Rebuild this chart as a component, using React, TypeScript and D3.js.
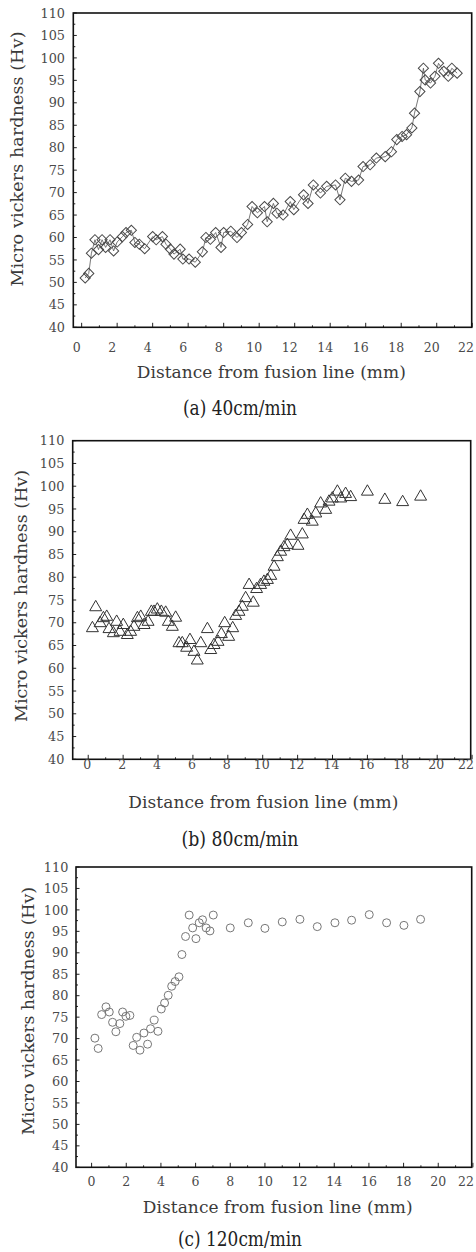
import React from 'react';
import * as d3 from 'd3';

// ---------- data ----------
const yTickValues = [40, 45, 50, 55, 60, 65, 70, 75, 80, 85, 90, 95, 100, 105, 110];
const xTickValues = [0, 2, 4, 6, 8, 10, 12, 14, 16, 18, 20, 22];

// (a) 40 cm/min - diamonds with a thin connecting line
const distA = [0.2, 0.4, 0.55, 0.75, 0.95, 1.15, 1.35, 1.6, 1.8, 2.0, 2.3, 2.5, 2.8, 3.0, 3.25, 3.55, 4.0, 4.2, 4.55, 4.75,
  5.0, 5.2, 5.55, 5.7, 6.05, 6.4, 6.8, 7.0, 7.25, 7.55, 7.85, 8.0, 8.4, 8.75, 9.0, 9.35, 9.6, 9.9, 10.3, 10.45,
  10.8, 11.0, 11.35, 11.75, 11.95, 12.5, 12.75, 13.05, 13.45, 13.8, 14.3, 14.55, 14.85, 15.2, 15.6, 15.85, 16.25, 16.6, 17.1, 17.45,
  17.75, 18.05, 18.3, 18.6, 18.75, 19.05, 19.25, 19.35, 19.65, 19.9, 20.1, 20.4, 20.65, 20.85, 21.15];
const hvA = [51.0, 52.0, 56.5, 59.5, 57.3, 59.5, 57.8, 59.5, 57.0, 59.0, 60.2, 61.1, 61.6, 58.9, 58.5, 57.5, 60.2, 59.5, 60.2, 58.5,
  57.4, 56.3, 57.4, 55.2, 55.2, 54.5, 56.8, 60.0, 59.6, 61.1, 57.8, 61.1, 61.4, 60.0, 61.1, 62.9, 66.9, 65.5, 66.9, 63.5,
  67.6, 65.4, 65.0, 68.0, 66.2, 69.5, 67.6, 71.7, 69.9, 71.4, 71.7, 68.4, 73.2, 72.5, 72.8, 75.8, 76.2, 77.7, 78.0, 79.1,
  81.8, 82.5, 82.9, 84.4, 87.7, 92.5, 97.7, 95.1, 94.4, 95.9, 98.8, 97.0, 95.9, 97.7, 96.6];

// (b) 80 cm/min - triangles
const distB = [0.24, 0.43, 0.68, 0.87, 1.06, 1.19, 1.44, 1.63, 1.82, 2.01, 2.24, 2.43, 2.62, 2.82, 3.01, 3.2, 3.43, 3.62, 3.77, 3.96,
  4.19, 4.44, 4.59, 4.82, 5.01, 5.2, 5.39, 5.64, 5.83, 6.06, 6.25, 6.45, 6.83, 7.02, 7.21, 7.44, 7.63, 7.82, 8.05, 8.28,
  8.45, 8.64, 8.83, 9.02, 9.22, 9.46, 9.65, 9.88, 10.07, 10.27, 10.46, 10.65, 10.84, 11.03, 11.22, 11.41, 11.6, 12.02, 12.27, 12.37,
  12.56, 12.84, 13.04, 13.32, 13.61, 13.8, 13.99, 14.28, 14.47, 14.75, 15.04, 16.0, 17.0, 18.02, 19.05];
const hvB = [68.8, 73.4, 69.9, 71.0, 71.3, 68.6, 67.7, 70.2, 68.0, 69.5, 67.3, 68.0, 69.1, 71.0, 71.3, 69.5, 70.2, 72.4, 72.4, 72.9,
  72.4, 72.2, 70.2, 69.1, 71.1, 65.5, 65.5, 64.5, 66.2, 63.6, 61.7, 65.5, 68.6, 64.0, 65.1, 65.8, 67.5, 69.9, 66.9, 68.8,
  71.5, 72.4, 73.5, 75.4, 78.3, 74.4, 77.4, 78.3, 79.0, 79.4, 80.3, 82.3, 84.4, 85.6, 86.6, 87.1, 89.1, 86.9, 89.4, 92.6,
  93.7, 92.2, 94.0, 96.2, 94.8, 96.6, 97.3, 98.8, 97.3, 98.3, 97.6, 98.8, 97.0, 96.5, 97.7];

// (c) 120 cm/min - circles
const distC = [0.19, 0.38, 0.58, 0.83, 1.02, 1.21, 1.4, 1.63, 1.79, 1.98, 2.21, 2.4, 2.6, 2.79, 3.02, 3.23, 3.4, 3.61, 3.83, 4.02,
  4.21, 4.42, 4.62, 4.82, 5.04, 5.21, 5.42, 5.63, 5.83, 6.02, 6.21, 6.4, 6.61, 6.83, 7.02, 8.0, 9.04, 10.0, 11.0, 12.02,
  13.02, 14.04, 15.0, 16.02, 17.02, 18.02, 18.98];
const hvC = [70.1, 67.7, 75.6, 77.4, 76.2, 73.8, 71.6, 73.5, 76.2, 75.2, 75.4, 68.4, 70.3, 67.3, 71.3, 68.7, 72.3, 74.3, 71.7, 76.9,
  78.3, 80.1, 82.2, 83.3, 84.4, 89.6, 93.8, 98.8, 95.8, 93.3, 97.0, 97.7, 95.8, 95.1, 98.8, 95.8, 97.0, 95.7, 97.2, 97.8,
  96.1, 97.0, 97.6, 98.9, 97.0, 96.4, 97.8];

const captions = ['(a) 40cm/min', '(b) 80cm/min', '(c) 120cm/min'];
const xTitleText = 'Distance from fusion line (mm)';
const yTitleText = 'Micro vickers hardness (Hv)';

// ---------- layout ----------
type Layout = {
  left: number; right: number; top: number; bottom: number;
  xDomain: [number, number];
  yLabelRight: number; xLabelBase: number; xLabelDx: number;
  xTitle: { cx: number; base: number; len: number };
  yTitle: { cx: number; cy: number; len: number };
  caption: { cx: number; base: number; len: number };
  marker: 'diamond' | 'triangle' | 'circle';
  line: boolean;
};

const layouts: Layout[] = [
  {
    left: 73.3, right: 471.7, top: 13, bottom: 327.3, xDomain: [-0.47, 21.97],
    yLabelRight: 65, xLabelBase: 351.7, xLabelDx: -5,
    xTitle: { cx: 271.3, base: 378, len: 269 },
    yTitle: { cx: 17, cy: 159, len: 255 },
    caption: { cx: 240, base: 415, len: 114 },
    marker: 'diamond', line: true,
  },
  {
    left: 72.7, right: 470.7, top: 440.7, bottom: 759.3, xDomain: [-0.89, 21.92],
    yLabelRight: 64.3, xLabelBase: 769.3, xLabelDx: -1,
    xTitle: { cx: 263.3, base: 808.3, len: 270 },
    yTitle: { cx: 21.7, cy: 596, len: 252 },
    caption: { cx: 240, base: 846, len: 117 },
    marker: 'triangle', line: false,
  },
  {
    left: 76, right: 471.7, top: 867, bottom: 1167.3, xDomain: [-0.9, 21.93],
    yLabelRight: 68.3, xLabelBase: 1186, xLabelDx: 0,
    xTitle: { cx: 277.7, base: 1212.7, len: 270 },
    yTitle: { cx: 28, cy: 1011, len: 248 },
    caption: { cx: 240, base: 1246, len: 124 },
    marker: 'circle', line: false,
  },
];

const datasets = [
  { xs: distA, ys: hvA },
  { xs: distB, ys: hvB },
  { xs: distC, ys: hvC },
];

const FONT = '"DejaVu Serif", serif';

function Panel({ L, xs, ys, caption }: { L: Layout; xs: number[]; ys: number[]; caption: string }) {
  const x = d3.scaleLinear().domain(L.xDomain).range([L.left, L.right]);
  const y = d3.scaleLinear().domain([40, 110]).range([L.bottom, L.top]);
  const pts = xs.map((d, i) => [d, ys[i]] as [number, number]);
  const lineGen = d3.line<[number, number]>().x(d => x(d[0])).y(d => y(d[1]));
  const squarePath = d3.symbol().type(d3.symbolSquare).size(52)() as string;
  const triPath = d3.symbol().type(d3.symbolTriangle).size(62)() as string;
  const xMinor = d3.range(1, 22, 2);
  const yMinor = d3.range(42.5, 110, 5);

  return (
    <g>
      {/* ticks inside the frame */}
      {xTickValues.map(t => (
        <line key={'xt' + t} x1={x(t)} x2={x(t)} y1={L.bottom} y2={L.bottom - 4.5} stroke="#222" strokeWidth={1} />
      ))}
      {xMinor.map(t => (
        <line key={'xm' + t} x1={x(t)} x2={x(t)} y1={L.bottom} y2={L.bottom - 2} stroke="#222" strokeWidth={1} />
      ))}
      {yTickValues.map(t => (
        <line key={'yt' + t} x1={L.left} x2={L.left + 3.5} y1={y(t)} y2={y(t)} stroke="#222" strokeWidth={1} />
      ))}
      {yMinor.map(t => (
        <line key={'ym' + t} x1={L.left} x2={L.left + 2} y1={y(t)} y2={y(t)} stroke="#222" strokeWidth={1} />
      ))}
      <rect x={L.left} y={L.top} width={L.right - L.left} height={L.bottom - L.top} fill="none" stroke="#111" strokeWidth={1.6} />

      {/* tick labels */}
      {yTickValues.map(t => (
        <text key={'yl' + t} x={L.yLabelRight} y={y(t)} dy="0.36em" textAnchor="end" fontFamily={FONT} fontSize={12.8} fill="#4a4a4a">{t}</text>
      ))}
      {xTickValues.map(t => {
        const px = x(t) + L.xLabelDx;
        return (
          <text key={'xl' + t} x={Math.min(px, 466)} y={L.xLabelBase} textAnchor="middle" fontFamily={FONT} fontSize={12.5} fill="#4a4a4a">{t}</text>
        );
      })}

      {/* titles */}
      <text x={L.xTitle.cx} y={L.xTitle.base} textAnchor="middle" fontFamily={FONT} fontSize={17} fill="#3a3a3a"
        textLength={L.xTitle.len} lengthAdjust="spacing">{xTitleText}</text>
      <text transform={`translate(${L.yTitle.cx},${L.yTitle.cy}) rotate(-90)`} dy="0.33em" textAnchor="middle" fontFamily={FONT}
        fontSize={17.5} fill="#3a3a3a" textLength={L.yTitle.len} lengthAdjust="spacing">{yTitleText}</text>
      <text x={L.caption.cx} y={L.caption.base} textAnchor="middle" fontFamily={FONT} fontSize={20} fill="#222"
        textLength={L.caption.len} lengthAdjust="spacingAndGlyphs">{caption}</text>

      {/* data */}
      {L.line && <path d={lineGen(pts) as string} fill="none" stroke="#555" strokeWidth={0.8} />}
      {pts.map((p, i) => {
        const cx = x(p[0]);
        const cy = y(p[1]);
        if (L.marker === 'diamond') {
          return <path key={i} d={squarePath} transform={`translate(${cx},${cy}) rotate(45)`} fill="none" stroke="#4a4a4a" strokeWidth={1} />;
        }
        if (L.marker === 'triangle') {
          return <path key={i} d={triPath} transform={`translate(${cx},${cy})`} fill="none" stroke="#333" strokeWidth={1} />;
        }
        return <circle key={i} cx={cx} cy={cy} r={4} fill="none" stroke="#777" strokeWidth={1} />;
      })}
    </g>
  );
}

export default function App() {
  return (
    <svg width={476} height={1252} viewBox="0 0 476 1252" style={{ position: 'absolute', left: 0, top: 0, background: '#fff' }}>
      <rect x={0} y={0} width={476} height={1252} fill="#fff" />
      {layouts.map((L, i) => (
        <Panel key={i} L={L} xs={datasets[i].xs} ys={datasets[i].ys} caption={captions[i]} />
      ))}
    </svg>
  );
}
